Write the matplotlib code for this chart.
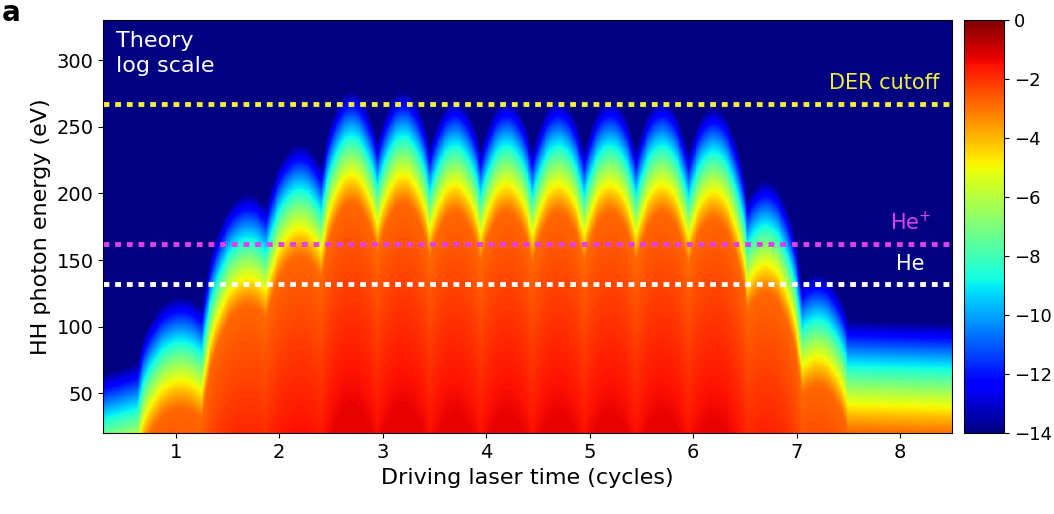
import numpy as np
import matplotlib.pyplot as plt

# arch centres (cycles), cutoff energy of the blue edge (eV), half widths (cycles)
arch_t = [1.05, 1.7, 2.2, 2.7, 3.2, 3.7, 4.2, 4.7, 5.2, 5.7, 6.2, 6.7, 7.2]
arch_cut = [108, 185, 222, 262, 262, 255, 255, 255, 255, 255, 250, 195, 125]
arch_w = [0.45, 0.5, 0.5, 0.45, 0.45, 0.45, 0.45, 0.45, 0.45, 0.45, 0.45, 0.42, 0.38]
floor_t = [0.3, 0.8, 1.2, 1.5, 2.0, 6.2, 6.9, 7.5, 8.5]
floor_cut = [50, 62, 80, 130, 170, 165, 110, 90, 88]

lines_e = [267, 162, 132]
lines_c = ["#f2ee3a", "#e040e8", "white"]
lines_lbl = ["DER cutoff", "He$^{+}$", "He"]
lines_lbl_y = [283, 178, 147]
lines_lbl_x = [7.85, 8.1, 8.1]

t = np.linspace(0.3, 8.5, 900)
E = np.linspace(20, 330, 500)
T, EE = np.meshgrid(t, E)
cut = np.interp(t, floor_t, floor_cut)
for tc, c, w in zip(arch_t, arch_cut, arch_w):
    u = np.clip(1 - ((t - tc) / w) ** 2, 0, 1)
    cut = np.maximum(cut, 30 + (c - 30) * np.sqrt(u))
C = cut[None, :]
frac = np.clip((EE - (C - 70)) / 85, 0, 1)
L = -2.8 + 1.5 * np.clip((C - 70 - EE) / 150, 0, 1) - 11.2 * frac ** 1.2

plt.rcParams['font.family'] = 'DejaVu Sans'
fig = plt.figure(figsize=(10.54, 5.14), dpi=100)
ax = fig.add_axes([0.098, 0.157, 0.805, 0.804])
cax = fig.add_axes([0.915, 0.157, 0.038, 0.804])
im = ax.pcolormesh(T, EE, L, cmap='jet', vmin=-14, vmax=0, shading='auto')
for e, c, s, lx, ly in zip(lines_e, lines_c, lines_lbl, lines_lbl_x, lines_lbl_y):
    ax.axhline(e, color=c, ls=(0, (1.2, 1.2)), lw=3.5)
    ax.text(lx, ly, s, color=c, fontsize=15, ha='center', va='center')
ax.text(0.42, 305, "Theory\nlog scale", color='white', fontsize=16, va='center', linespacing=1.3)
ax.set_xlim(0.3, 8.5)
ax.set_ylim(20, 330)
ax.set_xticks(range(1, 9))
ax.set_yticks([50, 100, 150, 200, 250, 300])
ax.tick_params(labelsize=14)
ax.set_xlabel("Driving laser time (cycles)", fontsize=16)
ax.set_ylabel("HH photon energy (eV)", fontsize=16)
cb = fig.colorbar(im, cax=cax, ticks=range(-14, 1, 2))
cb.ax.set_yticklabels(["\u221214", "\u221212", "\u221210", "\u22128", "\u22126", "\u22124", "\u22122", "0"])
cb.ax.tick_params(labelsize=13)
fig.text(0.002, 0.975, "a", fontsize=20, fontweight='bold', va='center')
fig.savefig("out.png", dpi=100)
